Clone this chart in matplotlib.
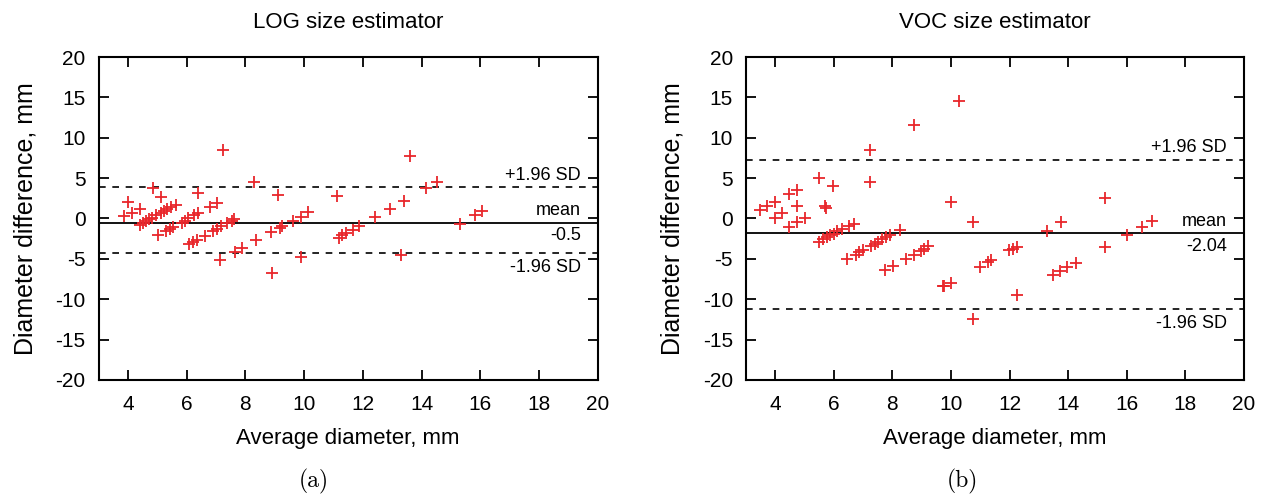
import matplotlib
matplotlib.use("Agg")
import matplotlib.pyplot as plt
import matplotlib.transforms as mtransforms

plt.rcParams['font.family'] = ['Liberation Sans', 'DejaVu Sans']
plt.rcParams['axes.unicode_minus'] = False

# LOG size estimator: average diameter vs. diameter difference (mm)
log_avg = [3.87, 4.0, 4.15, 4.4, 4.4, 4.51, 4.6, 4.71, 4.86, 4.81, 4.95, 5.03,
           5.11, 5.14, 5.22, 5.31, 5.34, 5.43, 5.45, 5.54, 5.63, 5.84, 5.94,
           6.03, 6.09, 6.23, 6.25, 6.34, 6.4, 6.4, 6.63, 6.8, 6.89, 7.03, 7.03,
           7.14, 7.16, 7.25, 7.37, 7.54, 7.62, 7.63, 7.88, 8.28, 8.36, 8.87,
           8.91, 9.11, 9.17, 9.23, 9.63, 9.88, 9.91, 10.14, 11.13, 11.19, 11.3,
           11.44, 11.65, 11.88, 12.41, 12.91, 13.42, 13.3, 13.62, 14.17, 14.53,
           15.31, 15.81, 16.06]
log_diff = [0.33, 2.03, 0.7, 1.2, -0.75, -0.54, -0.37, -0.12, 3.8, 0.12, 0.41,
            -2.07, 0.62, 2.7, 0.87, -1.49, 1.12, -1.29, 1.37, -1.04, 1.66, -0.5,
            -0.29, 0.0, -3.15, -2.86, 0.41, -2.7, 3.2, 0.62, -2.16, 1.41, -1.58,
            1.95, -1.33, -5.19, -0.95, 8.5, -0.58, -0.37, -0.12, -4.19, -3.69,
            4.52, -2.7, -1.7, -6.76, 2.86, -1.2, -0.95, -0.29, 0.21, -4.77, 0.75,
            2.82, -2.36, -2.07, -1.78, -1.37, -0.91, 0.21, 1.12, 2.16, -4.56,
            7.76, 3.73, 4.48, -0.62, 0.41, 0.91]
log_mean, log_upper, log_lower = -0.5, 3.85, -4.3
log_mean_text = "-0.5"

# VOC size estimator
voc_avg = [3.48, 3.73, 3.98, 3.98, 4.23, 4.48, 4.48, 4.75, 4.75, 4.75, 5.0,
           5.48, 5.48, 5.64, 5.71, 5.73, 5.78, 5.87, 5.98, 6.0, 6.12, 6.26, 6.46,
           6.53, 6.67, 6.74, 6.85, 6.99, 7.24, 7.24, 7.26, 7.4, 7.49, 7.63, 7.74,
           7.79, 7.92, 8.01, 8.26, 8.47, 8.72, 8.72, 8.97, 9.09, 9.23, 9.72,
           9.77, 10.0, 10.0, 10.26, 10.75, 10.75, 10.98, 11.25, 11.37, 11.97,
           12.11, 12.25, 12.25, 13.28, 13.48, 13.73, 13.76, 13.98, 14.26, 15.26,
           15.26, 16.01, 16.53, 16.88]
voc_diff = [1.0, 1.5, 2.04, 0.0, 0.62, 3.0, -1.04, 3.54, 1.58, -0.46, 0.0, 5.0,
            -2.92, -2.58, 1.5, 1.33, -2.33, -2.08, 4.08, -1.88, -1.58, -1.25,
            -5.0, -0.92, -0.62, -4.5, -4.17, -3.92, 8.54, 4.5, -3.42, -3.13,
            -2.92, -2.58, -6.42, -2.33, -2.08, -5.92, -1.42, -5.0, 11.54, -4.5,
            -4.0, -3.75, -3.46, -8.42, -8.33, -8.0, 2.04, 14.5, -12.42, -0.46,
            -6.0, -5.42, -5.13, -3.96, -3.75, -3.5, -9.46, -1.5, -6.96, -6.46,
            -0.42, -6.04, -5.46, 2.5, -3.5, -2.0, -1.04, -0.25]
voc_mean, voc_upper, voc_lower = -1.8, 7.3, -11.2
voc_mean_text = "-2.04"

x_ticks = list(range(4, 21, 2))
y_ticks = list(range(-20, 21, 5))

RED = '#e8262b'


def draw_panel(ax, x, y, mean, upper, lower, mean_text, title):
    ax.plot(x, y, linestyle='none', marker='+', color=RED,
            markersize=8, markeredgewidth=1.3, zorder=3)
    ax.axhline(mean, color='black', linewidth=1.3, zorder=2)
    ax.axhline(upper, color='black', linewidth=1.2, dashes=(4, 4), zorder=2)
    ax.axhline(lower, color='black', linewidth=1.2, dashes=(4, 4), zorder=2)

    # labels sit at the right end of the reference lines
    trans = mtransforms.blended_transform_factory(ax.transAxes, ax.transData)
    fs = 13
    ax.text(0.966, upper + 0.4, "+1.96 SD", transform=trans, ha='right',
            va='bottom', fontsize=fs)
    ax.text(0.966, mean + 0.4, "mean", transform=trans, ha='right',
            va='bottom', fontsize=fs)
    ax.text(0.966, mean - 0.6, mean_text, transform=trans, ha='right',
            va='top', fontsize=fs)
    ax.text(0.966, lower - 0.7, "-1.96 SD", transform=trans, ha='right',
            va='top', fontsize=fs)

    ax.set_xlim(3, 20)
    ax.set_ylim(-20, 20)
    ax.set_xticks(x_ticks)
    ax.set_yticks(y_ticks)
    ax.tick_params(direction='in', length=7, width=1.3, top=True, right=True,
                   labelsize=15)
    ax.tick_params(axis='x', pad=11)
    ax.tick_params(axis='y', pad=9.5)
    for s in ax.spines.values():
        s.set_linewidth(1.5)
    ax.set_xlabel("Average diameter, mm", fontsize=16, labelpad=10)
    ax.set_ylabel("Diameter difference, mm", fontsize=18, labelpad=13)
    ax.set_title(title, fontsize=16, pad=21)


fig = plt.figure(figsize=(12.68, 4.94), dpi=100)
ax1 = fig.add_axes([0.0778, 0.2308, 0.3935, 0.6538])
ax2 = fig.add_axes([0.5884, 0.2308, 0.3924, 0.6538])

draw_panel(ax1, log_avg, log_diff, log_mean, log_upper, log_lower,
           log_mean_text, "LOG size estimator")
draw_panel(ax2, voc_avg, voc_diff, voc_mean, voc_upper, voc_lower,
           voc_mean_text, "VOC size estimator")

fig.text(0.2476, 0.025, "(a)", family='cmr10', fontsize=17, ha='center',
         va='center')
fig.text(0.7587, 0.025, "(b)", family='cmr10', fontsize=17, ha='center',
         va='center')

fig.savefig("out.png", dpi=100)
